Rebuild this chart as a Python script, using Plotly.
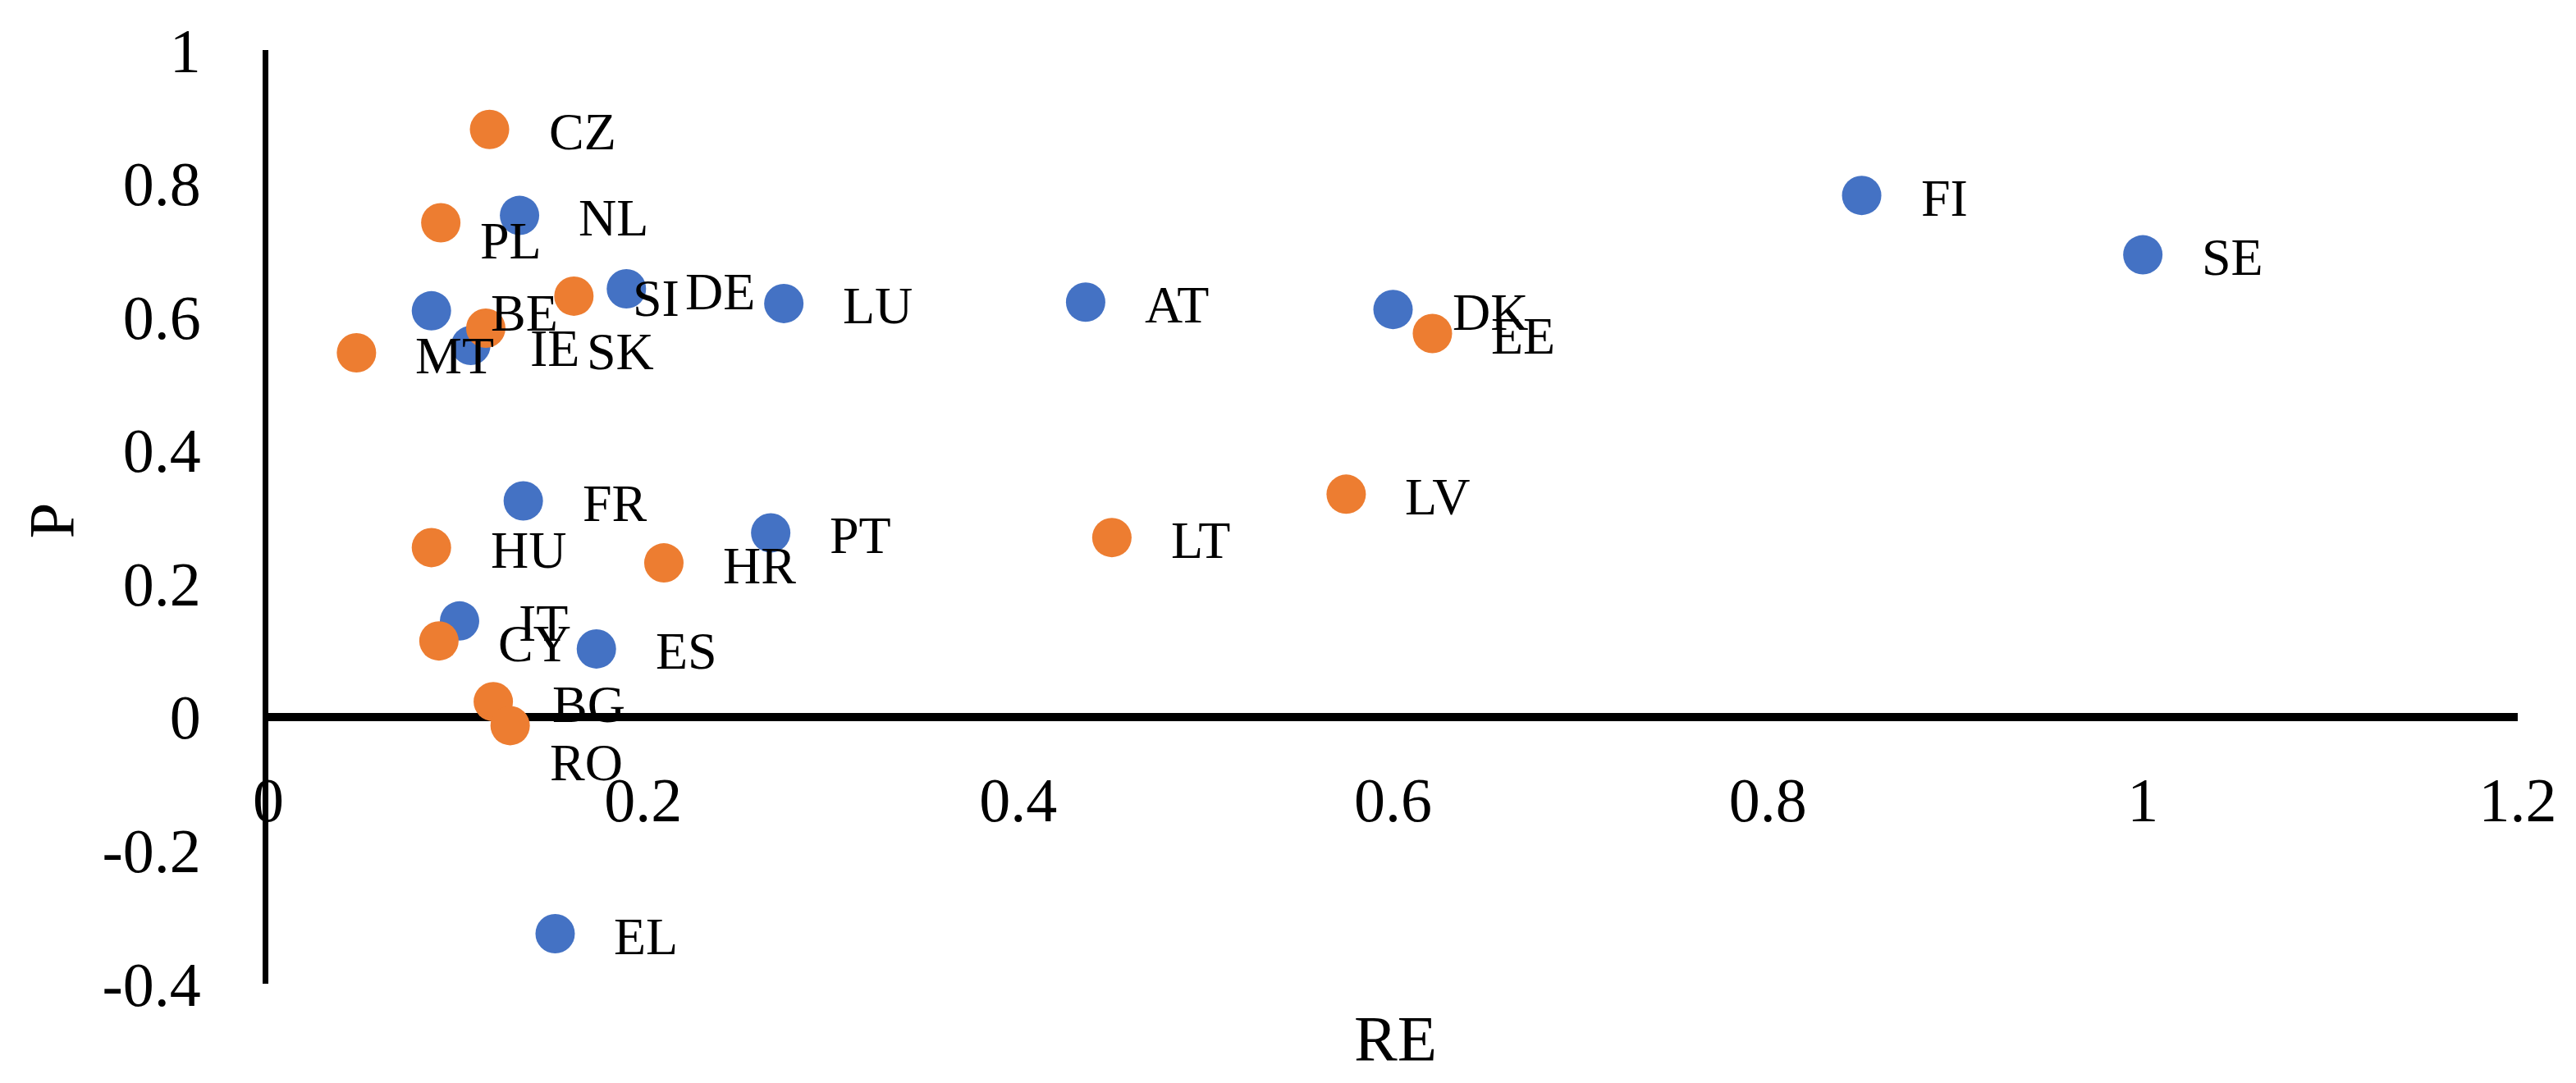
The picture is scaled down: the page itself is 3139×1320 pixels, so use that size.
import plotly.graph_objects as go

# ---- data ----
eu14_codes = ["BE", "DK", "DE", "IE", "EL", "ES", "FR", "IT", "LU", "NL", "AT", "PT", "FI", "SE"]
eu14_re = [0.087, 0.600, 0.191, 0.108, 0.153, 0.175, 0.136, 0.102, 0.275, 0.134, 0.436, 0.268, 0.850, 1.000]
eu14_p = [0.609, 0.611, 0.642, 0.557, -0.325, 0.102, 0.324, 0.144, 0.620, 0.752, 0.622, 0.276, 0.782, 0.693]

eu13_codes = ["BG", "CZ", "EE", "HR", "CY", "LV", "LT", "HU", "MT", "PL", "RO", "SI", "SK"]
eu13_re = [0.120, 0.118, 0.621, 0.211, 0.091, 0.575, 0.450, 0.087, 0.047, 0.092, 0.129, 0.163, 0.116]
eu13_p = [0.023, 0.881, 0.575, 0.231, 0.114, 0.334, 0.269, 0.254, 0.546, 0.741, -0.013, 0.631, 0.583]

x_ticks = [0, 0.2, 0.4, 0.6, 0.8, 1, 1.2]
x_tick_text = ["0", "0.2", "0.4", "0.6", "0.8", "1", "1.2"]
y_ticks = [-0.4, -0.2, 0, 0.2, 0.4, 0.6, 0.8, 1]
y_tick_text = ["-0.4", "-0.2", "0", "0.2", "0.4", "0.6", "0.8", "1"]

x_title = "RE"
y_title = "P"

# ---- styling ----
X_RANGE = [0, 1.2]
Y_RANGE = [-0.4, 1.0]
BLUE = "#4472C4"
ORANGE = "#ED7D31"
FONT = "Liberation Serif, serif"
W, H = 3139, 1320
ML, MR, MT_, MB = 319, 79, 50, 129

# label nudges (pixels) for labels that were moved by hand in the original
label_default_shift = (70, -3)
label_nudges = {"PL": (46, -22), "SK": (121, -29), "RO": (46, -45)}

fig = go.Figure()
fig.add_trace(go.Scatter(x=eu14_re, y=eu14_p, mode="markers", name="EU14",
                         marker=dict(size=48, color=BLUE, line=dict(width=0)),
                         hoverinfo="skip", cliponaxis=False))
fig.add_trace(go.Scatter(x=eu13_re, y=eu13_p, mode="markers", name="EU13",
                         marker=dict(size=48, color=ORANGE, line=dict(width=0)),
                         hoverinfo="skip", cliponaxis=False))

annotations = []
for codes, xs, ys in [(eu14_codes, eu14_re, eu14_p), (eu13_codes, eu13_re, eu13_p)]:
    for c, xv, yv in zip(codes, xs, ys):
        dx, dy = label_nudges.get(c, label_default_shift)
        annotations.append(dict(x=xv, y=yv, xref="x", yref="y", text=c, showarrow=False,
                                xanchor="left", yanchor="middle", xshift=dx, yshift=dy,
                                font=dict(family=FONT, size=64, color="black")))

plot_h = H - MT_ - MB
plot_w = W - ML - MR
annotations.append(dict(x=(54 - ML) / plot_w, y=(H - MB - 625) / plot_h, xref="paper", yref="paper",
                        text=y_title, showarrow=False, textangle=-90,
                        xanchor="center", yanchor="middle",
                        font=dict(family=FONT, size=79, color="black")))
annotations.append(dict(x=(1693 - ML) / plot_w, y=(H - MB - 1258) / plot_h, xref="paper", yref="paper",
                        text=x_title, showarrow=False,
                        xanchor="center", yanchor="middle",
                        font=dict(family=FONT, size=79, color="black")))

zero_pos = (0 - Y_RANGE[0]) / (Y_RANGE[1] - Y_RANGE[0])

fig.update_layout(
    width=W, height=H,
    margin=dict(l=ML, r=MR, t=MT_, b=MB, pad=0),
    paper_bgcolor="white", plot_bgcolor="white",
    showlegend=False,
    annotations=annotations,
    xaxis=dict(range=X_RANGE, tickvals=x_ticks, ticktext=x_tick_text,
               showgrid=False, zeroline=False, showline=False, ticks="",
               anchor="free", position=zero_pos, ticklabelstandoff=50,
               tickfont=dict(family=FONT, size=76, color="black"),
               fixedrange=True),
    yaxis=dict(range=Y_RANGE, tickvals=y_ticks, ticktext=y_tick_text,
               showgrid=False, zeroline=True, zerolinecolor="black", zerolinewidth=10,
               showline=True, linecolor="black", linewidth=7, ticks="",
               ticklabelstandoff=60,
               tickfont=dict(family=FONT, size=76, color="black"),
               fixedrange=True),
)

fig.write_html("out.html")
